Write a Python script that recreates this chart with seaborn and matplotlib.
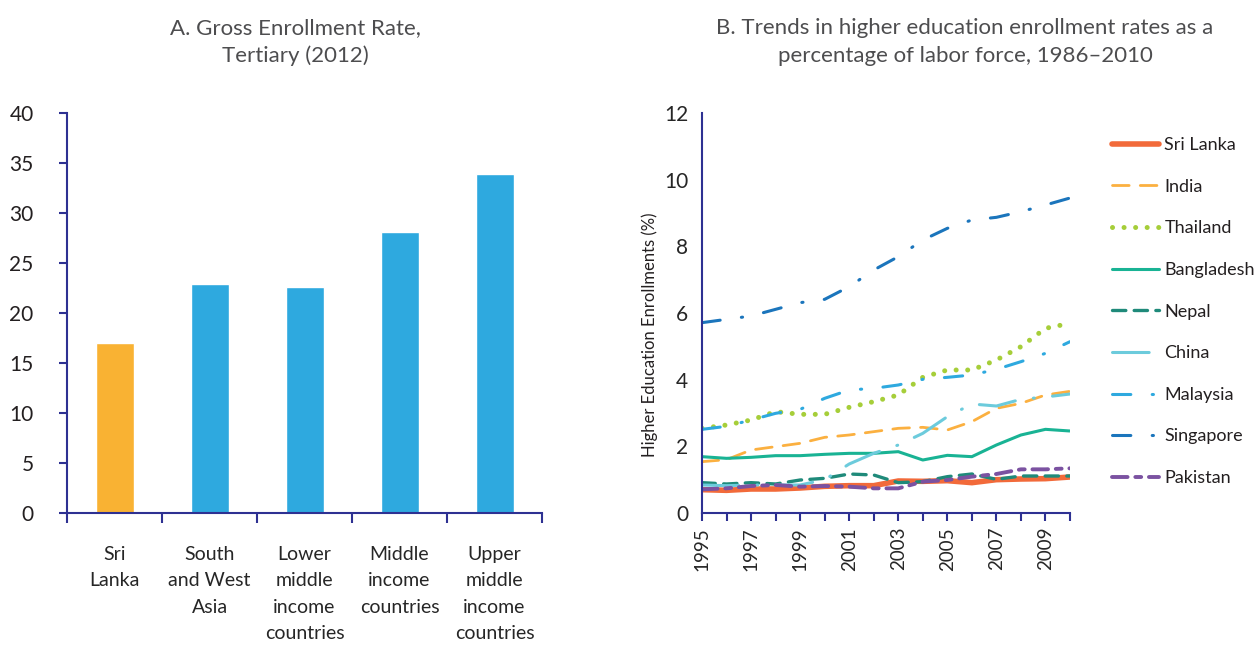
import matplotlib
matplotlib.use("Agg")
import matplotlib.pyplot as plt
import seaborn as sns
import pandas as pd
import numpy as np
from matplotlib.lines import Line2D

# ---------------- data ----------------
bar_categories = ["Sri\nLanka", "South\nand West\nAsia", "Lower\nmiddle\nincome\ncountries",
                  "Middle\nincome\ncountries", "Upper\nmiddle\nincome\ncountries"]
bar_values = [17.0, 22.9, 22.6, 28.1, 33.9]

years = list(range(1995, 2011))
sri_lanka = [0.70, 0.68, 0.72, 0.72, 0.75, 0.80, 0.82, 0.82, 0.96, 0.95, 0.97, 0.91, 1.00, 1.02, 1.03, 1.08]
india = [1.54, 1.60, 1.89, 1.99, 2.09, 2.27, 2.34, 2.44, 2.54, 2.57, 2.49, 2.74, 3.14, 3.29, 3.54, 3.65]
thailand = [2.54, 2.64, 2.79, 3.04, 2.96, 2.96, 3.17, 3.34, 3.54, 4.07, 4.29, 4.29, 4.59, 4.99, 5.54, 5.69]
bangladesh = [1.69, 1.64, 1.67, 1.72, 1.72, 1.76, 1.79, 1.79, 1.84, 1.59, 1.73, 1.69, 2.04, 2.34, 2.51, 2.46]
nepal = [0.91, 0.87, 0.91, 0.87, 0.99, 1.04, 1.17, 1.14, 0.91, 0.94, 1.09, 1.17, 1.01, 1.11, 1.11, 1.11]
china = [0.84, 0.82, 0.84, 0.84, 0.84, 1.00, 1.47, 1.79, 2.04, 2.39, 2.89, 3.27, 3.21, 3.41, 3.48, 3.57]
malaysia = [2.51, 2.60, 2.79, 2.99, 3.11, 3.44, 3.69, 3.74, 3.84, 4.01, 4.07, 4.14, 4.31, 4.54, 4.79, 5.14]
singapore = [5.71, 5.81, 5.91, 6.11, 6.31, 6.41, 6.79, 7.29, 7.69, 8.19, 8.54, 8.79, 8.87, 9.04, 9.24, 9.45]
pakistan = [0.71, 0.74, 0.81, 0.84, 0.79, 0.81, 0.79, 0.74, 0.74, 0.94, 0.99, 1.09, 1.17, 1.31, 1.31, 1.34]

series_names = ["Sri Lanka", "India", "Thailand", "Bangladesh", "Nepal", "China",
                "Malaysia", "Singapore", "Pakistan"]
series_values = [sri_lanka, india, thailand, bangladesh, nepal, china, malaysia, singapore, pakistan]

# ---------------- styles ----------------
navy = "#2e3192"
text_col = "#231f20"
title_col = "#4d4d4f"
bar_colors = ["#f9b233", "#2ea9df", "#2ea9df", "#2ea9df", "#2ea9df"]
styles = {
    "Sri Lanka": dict(color="#f26a3a", lw=4.0, ls="-"),
    "India": dict(color="#fbb040", lw=2.0, ls=(0, (6, 4))),
    "Thailand": dict(color="#a6ce39", lw=3.6, ls=(0, (0.01, 2.3))),
    "Bangladesh": dict(color="#19b394", lw=2.2, ls="-"),
    "Nepal": dict(color="#1f8a7a", lw=2.4, ls=(0, (4, 2.5))),
    "China": dict(color="#6ccbdc", lw=2.2, ls=(0, (12, 6, 0.3, 6))),
    "Malaysia": dict(color="#2ea9df", lw=2.2, ls=(0, (6, 7, 0.4, 7))),
    "Singapore": dict(color="#1b75bc", lw=2.2, ls=(0, (6, 7, 0.4, 7))),
    "Pakistan": dict(color="#7b52a1", lw=2.8, ls=(0, (4, 2, 1.5, 2))),
}

sns.set_theme(style="white")
plt.rcParams["font.family"] = ["Lato", "DejaVu Sans"]
plt.rcParams["text.color"] = text_col

fig = plt.figure(figsize=(12.6, 6.45), dpi=100)
W, H = 1260, 645

def axes_px(x0, x1, ytop, ybot):
    return fig.add_axes([x0 / W, 1 - ybot / H, (x1 - x0) / W, (ybot - ytop) / H])

# ---------------- Panel A ----------------
axA = axes_px(67, 542, 113, 513)
dfA = pd.DataFrame({"cat": bar_categories, "val": bar_values})
sns.barplot(data=dfA, x="cat", y="val", hue="cat", palette=bar_colors, legend=False,
            width=0.4, ax=axA, saturation=1)
axA.set_xlim(-0.5, 4.5)
axA.set_ylim(0, 40)
axA.set_yticks(range(0, 41, 5))
axA.set_xlabel("")
axA.set_ylabel("")
for s in ["top", "right"]:
    axA.spines[s].set_visible(False)
for s in ["left", "bottom"]:
    axA.spines[s].set_color(navy)
    axA.spines[s].set_linewidth(1.5)
axA.set_xticks(np.arange(-0.5, 5, 1.0))
axA.set_xticklabels([""] * 6)
axA.set_xticks(range(5), minor=True)
axA.set_xticklabels(bar_categories, minor=True, fontsize=14, linespacing=1.65,
                    va="top", ha="center")
axA.tick_params(axis="x", which="major", direction="out", length=7, width=1.5, color=navy,
                bottom=True)
axA.tick_params(axis="x", which="minor", length=0, pad=24, bottom=True)
axA.tick_params(axis="y", direction="out", length=6, width=1.5, color=navy, left=True,
                labelsize=15, pad=18)
for lab in axA.get_yticklabels():
    lab.set_color(text_col)
axA.grid(False)

fig.text(295 / W, 1 - 42 / H, "A. Gross Enrollment Rate,\nTertiary (2012)", ha="center",
         va="center", fontsize=16, color=title_col, linespacing=1.45)

# ---------------- Panel B ----------------
axB = axes_px(702, 1070, 113, 513)
handles = []
for name, vals in zip(series_names, series_values):
    st = styles[name]
    sns.lineplot(x=years, y=vals, ax=axB, color=st["color"], linewidth=st["lw"],
                 linestyle=st["ls"], dash_capstyle="round", solid_capstyle="butt")
    handles.append(Line2D([0], [0], color=st["color"], lw=st["lw"], linestyle=st["ls"],
                          dash_capstyle="round"))
axB.set_xlim(1995, 2010)
axB.set_ylim(0, 12)
axB.set_yticks(range(0, 13, 2))
axB.set_xticks(years)
axB.set_xticklabels([str(y) if (y - 1995) % 2 == 0 else "" for y in years], rotation=90,
                    fontsize=13.5)
axB.set_xlabel("")
axB.set_ylabel("")
for s in ["top", "right"]:
    axB.spines[s].set_visible(False)
for s in ["left", "bottom"]:
    axB.spines[s].set_color(navy)
    axB.spines[s].set_linewidth(1.5)
axB.tick_params(axis="x", direction="out", length=6, width=1.5, color=navy, bottom=True,
                pad=4)
axB.tick_params(axis="y", direction="out", length=0, labelsize=15, pad=10, left=True)
axB.grid(False)

fig.text(650 / W, 1 - 335 / H, "Higher Education Enrollments (%)", rotation=90,
         ha="center", va="center", fontsize=12)
fig.text(965 / W, 1 - 42 / H,
         "B. Trends in higher education enrollment rates as a\npercentage of labor force, 1986\u20132010",
         ha="center", va="center", fontsize=16, color=title_col, linespacing=1.45)

fig.legend(handles, series_names, loc="upper left", bbox_to_anchor=(1112 / W, 1 - 137 / H),
           frameon=False, fontsize=13, handlelength=2.6, labelspacing=1.42, handletextpad=0.3,
           borderaxespad=0, borderpad=0)

fig.savefig("out.png", dpi=100)
